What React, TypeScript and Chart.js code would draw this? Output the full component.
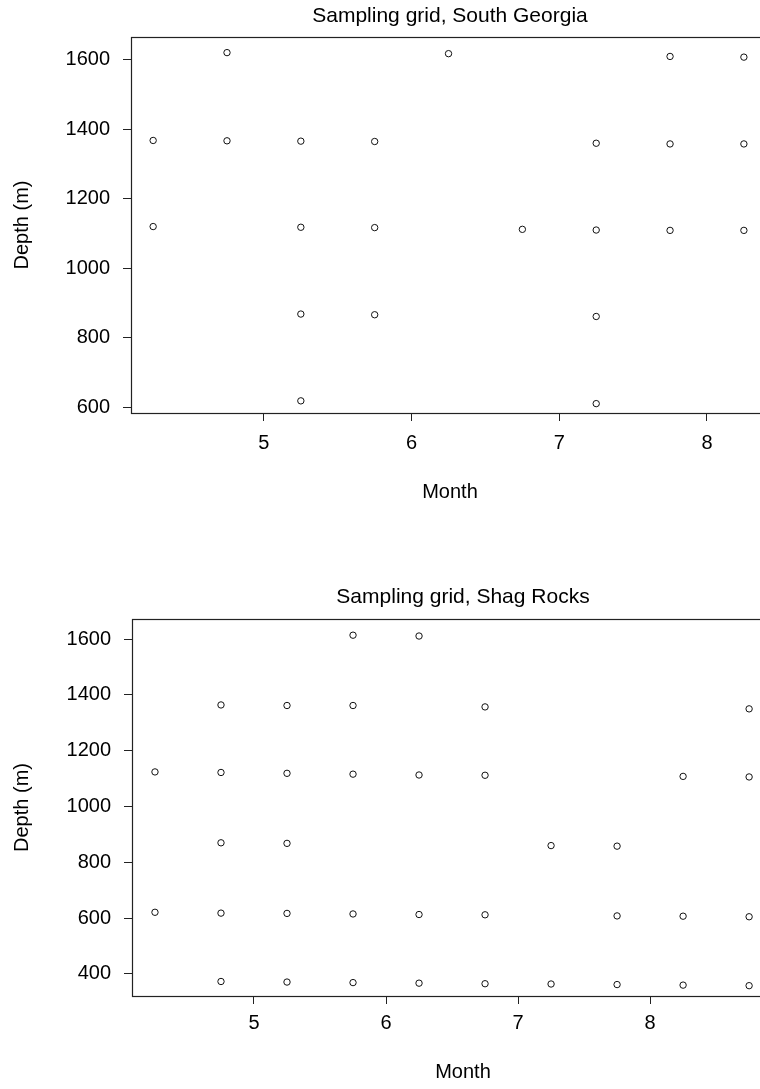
import React, { useEffect, useRef } from "react";
import { Chart, registerables } from "chart.js";

Chart.register(...registerables);

// ---- South Georgia sampling grid ----
const sgMonth = [4.75, 6.25, 7.75, 8.25, 4.25, 4.75, 5.25, 5.75, 7.25, 7.75, 8.25, 4.25, 5.25, 5.75, 6.75, 7.25, 7.75, 8.25, 5.25, 5.75, 7.25, 5.25, 7.25];
const sgDepth = [1621, 1618, 1610, 1608, 1368, 1367, 1366, 1365, 1360, 1358, 1358, 1120, 1118, 1117, 1112, 1110, 1109, 1109, 868, 866, 861, 618, 610];

// ---- Shag Rocks sampling grid ----
const srMonth = [5.75, 6.25, 4.75, 5.25, 5.75, 6.75, 8.75, 4.25, 4.75, 5.25, 5.75, 6.25, 6.75, 8.25, 8.75, 4.75, 5.25, 7.25, 7.75, 4.25, 4.75, 5.25, 5.75, 6.25, 6.75, 7.75, 8.25, 8.75, 4.75, 5.25, 5.75, 6.25, 6.75, 7.25, 7.75, 8.25, 8.75];
const srDepth = [1614, 1611, 1364, 1362, 1362, 1357, 1350, 1124, 1122, 1119, 1116, 1113, 1112, 1108, 1106, 870, 868, 860, 858, 621, 618, 617, 615, 613, 612, 608, 607, 605, 373, 371, 369, 367, 365, 364, 362, 360, 358];

const monthTicks = [5, 6, 7, 8];
const sgDepthTicks = [600, 800, 1000, 1200, 1400, 1600];
const srDepthTicks = [400, 600, 800, 1000, 1200, 1400, 1600];

const sgTitle = "Sampling grid, South Georgia";
const srTitle = "Sampling grid, Shag Rocks";
const xTitle = "Month";
const yTitle = "Depth (m)";

const FONT = "'Liberation Sans', Arial, Helvetica, sans-serif";

const boxPlugin = {
  id: "boxPlugin",
  afterDraw(chart: any) {
    const { ctx, chartArea } = chart;
    ctx.save();
    ctx.strokeStyle = "#222";
    ctx.lineWidth = 1.2;
    ctx.strokeRect(
      Math.round(chartArea.left) + 0.5,
      Math.round(chartArea.top) + 0.5,
      Math.round(chartArea.right - chartArea.left),
      Math.round(chartArea.bottom - chartArea.top)
    );
    ctx.restore();
  },
};

type Cfg = {
  months: number[];
  depths: number[];
  title: string;
  yTicks: number[];
  xMin: number;
  xMax: number;
  yMin: number;
  yMax: number;
  titlePad: { top: number; bottom: number };
  yWidth: number;
  xHeight: number;
  xTickPad: number;
  padRight: number;
  padBottom: number;
};

function makeChart(canvas: HTMLCanvasElement, c: Cfg) {
  const pts = c.months.map((m, i) => ({ x: m, y: c.depths[i] }));
  return new Chart(canvas, {
    type: "scatter",
    data: {
      datasets: [
        {
          data: pts,
          pointRadius: 3.2,
          pointHoverRadius: 3.2,
          pointBorderWidth: 1,
          borderColor: "#111",
          backgroundColor: "rgba(0,0,0,0)",
          pointStyle: "circle",
        },
      ],
    },
    options: {
      animation: false,
      responsive: false,
      devicePixelRatio: 1,
      layout: { padding: { left: 0, top: 0, right: c.padRight, bottom: c.padBottom } },
      plugins: {
        legend: { display: false },
        tooltip: { enabled: false },
        title: {
          display: true,
          text: c.title,
          fullSize: false,
          color: "#000",
          font: { family: FONT, size: 21, weight: "normal" },
          padding: c.titlePad,
        },
      },
      scales: {
        x: {
          type: "linear",
          position: "bottom",
          min: c.xMin,
          max: c.xMax,
          afterBuildTicks: (s: any) => {
            s.ticks = monthTicks.map((v) => ({ value: v }));
          },
          afterFit: (s: any) => {
            s.height = c.xHeight;
          },
          grid: { display: true, drawOnChartArea: false, drawTicks: true, tickLength: 8, color: "#222", lineWidth: 1 },
          border: { display: false },
          ticks: {
            color: "#000",
            padding: c.xTickPad,
            font: { family: FONT, size: 20 },
            maxRotation: 0,
            callback: (v: any) => String(v),
          },
          title: { display: true, text: xTitle, color: "#000", font: { family: FONT, size: 20 }, padding: { top: 0, bottom: 0 } },
        },
        y: {
          type: "linear",
          min: c.yMin,
          max: c.yMax,
          afterBuildTicks: (s: any) => {
            s.ticks = c.yTicks.map((v) => ({ value: v }));
          },
          afterFit: (s: any) => {
            s.width = c.yWidth;
          },
          grid: { display: true, drawOnChartArea: false, drawTicks: true, tickLength: 8, color: "#222", lineWidth: 1 },
          border: { display: false },
          ticks: {
            color: "#000",
            padding: 13,
            font: { family: FONT, size: 20 },
            callback: (v: any) => String(v),
          },
          title: { display: true, text: yTitle, color: "#000", font: { family: FONT, size: 20 }, padding: { top: 10, bottom: 0 } },
        },
      },
    },
    plugins: [boxPlugin],
  });
}

export default function App() {
  const ref1 = useRef<HTMLCanvasElement>(null);
  const ref2 = useRef<HTMLCanvasElement>(null);

  useEffect(() => {
    const c1 = makeChart(ref1.current!, {
      months: sgMonth,
      depths: sgDepth,
      title: sgTitle,
      yTicks: sgDepthTicks,
      xMin: 4.1,
      xMax: 8.42,
      yMin: 583,
      yMax: 1666,
      titlePad: { top: 4, bottom: 7.8 },
      yWidth: 131,
      xHeight: 91,
      xTickPad: 10,
      padRight: 31,
      padBottom: 36,
    });
    const c2 = makeChart(ref2.current!, {
      months: srMonth,
      depths: srDepth,
      title: srTitle,
      yTicks: srDepthTicks,
      xMin: 4.076,
      xMax: 9.09,
      yMin: 321,
      yMax: 1672,
      titlePad: { top: 24.4, bottom: 9.4 },
      yWidth: 132,
      xHeight: 88,
      xTickPad: 7,
      padRight: 46,
      padBottom: 5,
    });
    return () => {
      c1.destroy();
      c2.destroy();
    };
  }, []);

  return (
    <div style={{ position: "absolute", left: 0, top: 0, width: 760, height: 1089, overflow: "hidden", background: "#fff" }}>
      <canvas ref={ref1} width={800} height={540} style={{ position: "absolute", left: 0, top: 0, width: 800, height: 540 }} />
      <canvas ref={ref2} width={840} height={529} style={{ position: "absolute", left: 0, top: 560, width: 840, height: 529 }} />
    </div>
  );
}
